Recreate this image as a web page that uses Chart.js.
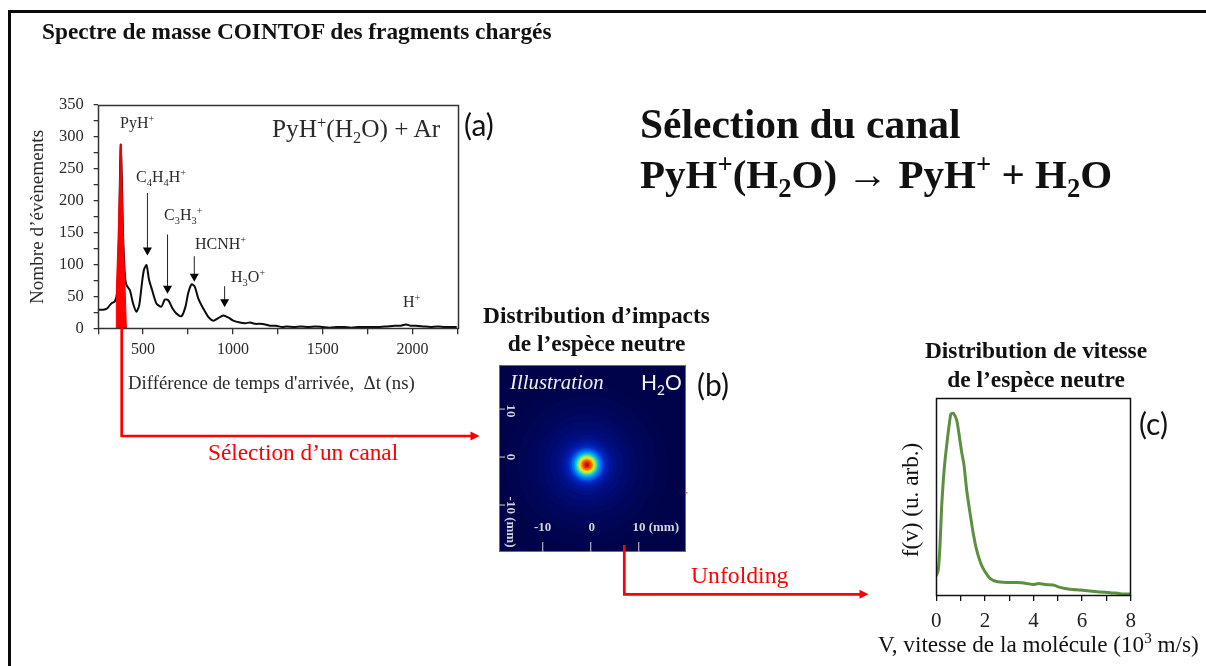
<!DOCTYPE html>
<html lang="fr"><head><meta charset="utf-8">
<script src="https://cdn.jsdelivr.net/npm/chart.js@4"></script>
<style>
html,body{margin:0;padding:0;background:#fff;width:1206px;height:666px;overflow:hidden}
#frameT{position:absolute;left:8px;top:10px;width:1198px;height:3px;background:#0a0a0a}
#frameL{position:absolute;left:8px;top:10px;width:3px;height:656px;background:#0a0a0a}
canvas{position:absolute;display:block}
.t{position:absolute;white-space:nowrap;font-family:"Liberation Serif",serif;color:#111;line-height:1;z-index:5}
.t sub,.t sup{font-size:65%;line-height:0}
.b{font-weight:bold}
.s{font-family:Lato,"Noto Sans",sans-serif;color:#111}
.r{color:#f00}
.g{color:#2a2a2a}
.rot{transform:translate(-50%,-50%) rotate(-90deg);transform-origin:center}
svg{position:absolute;left:0;top:0;z-index:4}
</style></head><body>
<div id="frameT"></div><div id="frameL"></div>
<canvas id="ca" width="450" height="270" style="left:20px;top:90px"></canvas>
<canvas id="cb" width="187" height="187" style="left:499px;top:365px;background:#00024a"></canvas>
<canvas id="cc" width="306" height="250" style="left:900px;top:385px"></canvas>
<svg width="1206" height="666">
 <path d="M121.7 328V436H471" fill="none" stroke="#f00" stroke-width="2.7"/>
 <path d="M479.5 436L470.5 431.5V440.5Z" fill="#f00"/>
 <path d="M624.3 545V594.3H860" fill="none" stroke="#f00" stroke-width="2.7"/>
 <path d="M868.5 594.3L859.5 589.8V598.8Z" fill="#f00"/>
 <rect x="686" y="492" width="1.5" height="1.5" fill="#f66"/>
</svg>

<div class="t b" style="left:42px;top:20px;font-size:23.3px">Spectre de masse COINTOF des fragments chargés</div>
<div class="t b" style="left:640px;top:104px;font-size:41.5px">Sélection du canal</div>
<div class="t b" style="left:640px;top:154px;font-size:41px">PyH<sup>+</sup>(H<sub>2</sub>O) → PyH<sup>+</sup> + H<sub>2</sub>O</div>

<div class="t g rot" style="left:37px;top:217px;font-size:19.2px">Nombre d’évènements</div>
<div class="t g" style="left:128px;top:374px;font-size:18.8px">Différence de temps d'arrivée,&nbsp; Δt (ns)</div>
<div class="t g" style="left:272px;top:116px;font-size:25.3px">PyH<sup>+</sup>(H<sub>2</sub>O) + Ar</div>
<div class="t g" style="left:120px;top:115px;font-size:16px">PyH<sup>+</sup></div>
<div class="t g" style="left:136px;top:169px;font-size:16px">C<sub>4</sub>H<sub>4</sub>H<sup>+</sup></div>
<div class="t g" style="left:164px;top:207px;font-size:16px">C<sub>3</sub>H<sub>3</sub><sup>+</sup></div>
<div class="t g" style="left:195px;top:236px;font-size:16px">HCNH<sup>+</sup></div>
<div class="t g" style="left:231px;top:269px;font-size:16px">H<sub>3</sub>O<sup>+</sup></div>
<div class="t g" style="left:403px;top:294px;font-size:16px">H<sup>+</sup></div>
<div class="t s" style="left:464px;top:109px;font-size:30px">(a)</div>
<div class="t s" style="left:697px;top:369px;font-size:30px">(b)</div>
<div class="t s" style="left:1139px;top:408px;font-size:30px">(c)</div>

<div class="t b" style="left:596.5px;top:304px;font-size:23.4px;transform:translateX(-50%)">Distribution d’impacts</div>
<div class="t b" style="left:596.5px;top:332px;font-size:23.4px;transform:translateX(-50%)">de l’espèce neutre</div>
<div class="t b" style="left:1036px;top:339px;font-size:23.4px;transform:translateX(-50%)">Distribution de vitesse</div>
<div class="t b" style="left:1036px;top:368px;font-size:23.4px;transform:translateX(-50%)">de l’espèce neutre</div>

<div class="t" style="left:510px;top:372px;font-size:20.8px;font-style:italic;color:#f0f0f0">Illustration</div>
<div class="t s" style="left:641px;top:371px;font-size:21px;color:#f4f4f4">H<sub>2</sub>O</div>

<div class="t r" style="left:208px;top:441px;font-size:23.3px">Sélection d’un canal</div>
<div class="t r" style="left:691px;top:564px;font-size:23.7px">Unfolding</div>

<div class="t rot" style="left:911px;top:500px;font-size:23.2px">f(v) (u. arb.)</div>
<div class="t" style="left:878px;top:633px;font-size:23.2px">V, vitesse de la molécule (10<sup>3</sup> m/s)</div>

<script>
// (a) COINTOF mass spectrum
const spectrumNs = [249,277,299,323,342,355,364,370,375,381,388,398,407,426,444,463,478,491,504,519,533,550,574,602,621,640,664,686,714,736,751,770,788,807,835,863,891,919,946,974,1002,1039,1070,1095,1125,1151,1180,1207,1240,1275,1300,1340,1380,1420,1460,1500,1540,1580,1620,1660,1700,1740,1780,1820,1860,1900,1930,1965,1990,2020,2060,2100,2140,2180,2220,2247];
const spectrumCounts = [29,29,31,39,42,55,112,220,288,240,150,85,68,60,39,26,36,65,91,99,76,60,39,34,45,44,31,23,19,34,55,69,65,47,31,18,12,16,20,17,12,9,8,9,7,7,6,4,4,2,3,2,3,2,3,2,1,2,2,1,2,2,2,2,3,4,4,6,4,4,3,2,3,2,2,2];
const selectionNs = [349,349,353,360,368,374,379,383,390,400,407];
const selectionCounts = [0,30,60,139,217,288,286,217,139,60,0];
const arrowNs = [524,636,785,954];
const arrowFromCounts = [212,147,113,66];
const arrowToCounts = [114,54,73,33];
const spectrumXTickMarks = [250,500,750,1000,1250,1500,1750,2000,2250];
const spectrumXTicks = [500,1000,1500,2000];
const spectrumYTicks = [0,50,100,150,200,250,300,350];

// (b) impact distribution: concentric intensity levels around the spot
const spotCentreMm = [-0.8,-1.6];
const spotRadiusMm = [17,14.5,12.5,10.5,9,7.5,6.4,5.5,4.9,4.4,3.9,3.5,3.15,2.8,2.5,2.25,2.05,1.8,1.55,1.3,1.1,0.8,0.45];
const spotColour = ['#00034e','#000554','#00065c','#000864','#000a6e','#000c78','#000f84','#001392','#0018a2','#0020b4','#002ec8','#0048dc','#0068ec','#0090f0','#00b8e8','#20d4c0','#70e080','#c0e840','#f8e020','#ffa800','#ff6a00','#f03000','#c81000'];
const pixelsPerMm = 4.8;
const impactXTicks = [-10,0,10];
const impactXLabels = ['-10','0','10 (mm)'];
const impactYTicks = [10,0,-10];
const impactYLabels = ['10','0','-10 (mm)'];

// (c) velocity distribution
const speed = [0,.08,.15,.22,.29,.36,.43,.52,.60,.70,.84,.93,1.04,1.14,1.25,1.39,1.52,1.66,1.82,2,2.21,2.48,2.89,3.31,3.72,3.99,4.22,4.47,4.81,5.09,5.5,5.91,6.32,6.74,7.15,7.56,8];
const fv = [9.7,12.7,24.6,44.9,58.5,68.6,76.3,85.6,92,92.4,88.9,82.2,72.9,66.1,53.4,41.5,31.4,22.9,16.4,11.9,8.5,6.9,6.4,6.3,5.9,5.3,5.9,5.3,5.1,3.9,2.9,2.5,2,1.5,1.2,.7,.5];
const speedTicks = [0,2,4,6,8];

const zip = (a,b)=>a.map((x,i)=>({x,y:b[i]}));
Chart.defaults.animation = false;
Chart.defaults.responsive = false;
Chart.defaults.devicePixelRatio = 1;
Chart.defaults.plugins.legend.display = false;
Chart.defaults.plugins.tooltip.enabled = false;
Chart.defaults.font.family = '"Liberation Serif",serif';

const fitX = h => s => {s.height=h;s.paddingLeft=0;s.paddingRight=0;};
const fitY = w => s => {s.width=w;s.paddingTop=0;s.paddingBottom=0;};
const frame = (color,w)=>({id:'frame',afterDatasetsDraw(c){
  const {left,right,top,bottom}=c.chartArea,g=c.ctx;
  g.save();g.strokeStyle=color;g.lineWidth=w;
  g.strokeRect(Math.round(left)+.5,Math.round(top)+.5,Math.round(right-left)-(w<1.5?1:0),Math.round(bottom-top)-(w<1.5?1:0));
  g.restore();}});

new Chart(document.getElementById('ca'),{
 type:'scatter',
 data:{datasets:[
  {data:zip(selectionNs,selectionCounts),showLine:true,fill:'origin',backgroundColor:'#ff0000',borderColor:'#ff0000',borderWidth:1,pointRadius:0,tension:0,order:0},
  {data:zip(spectrumNs,spectrumCounts),showLine:true,borderColor:'#0c0c0c',borderWidth:2,pointRadius:0,tension:0.25,order:1}
 ]},
 options:{
  layout:{autoPadding:false,padding:{top:15,right:12.7,left:0,bottom:0}},
  scales:{
   x:{type:'linear',min:247,max:2250,afterFit:fitX(31.7),
      afterBuildTicks:s=>{s.ticks=spectrumXTickMarks.map(value=>({value}));},
      grid:{display:true,drawOnChartArea:false,tickLength:6,tickColor:'#333',lineWidth:1.3},border:{display:false},
      ticks:{autoSkip:false,maxRotation:0,padding:6,color:'#2a2a2a',font:{size:16},
             callback:v=>spectrumXTicks.includes(v)?String(v):''}},
   y:{min:0,max:350,afterFit:fitY(77.7),
      grid:{display:true,drawOnChartArea:false,tickLength:4,tickColor:'#333',lineWidth:1.3},border:{display:false},
      ticks:{stepSize:25,autoSkip:false,padding:10,color:'#2a2a2a',font:{size:16.5},
             callback:v=>spectrumYTicks.includes(v)?String(v):''}}
  }
 },
 plugins:[frame('#333',1.5),{id:'arrows',afterDatasetsDraw(c){
   const g=c.ctx,x=c.scales.x,y=c.scales.y;
   g.save();g.strokeStyle='#222';g.fillStyle='#000';g.lineWidth=1;
   arrowNs.forEach((n,i)=>{
     const px=x.getPixelForValue(n),a=y.getPixelForValue(arrowFromCounts[i]),b=y.getPixelForValue(arrowToCounts[i]);
     g.beginPath();g.moveTo(px,a);g.lineTo(px,b-7);g.stroke();
     g.beginPath();g.moveTo(px-4.5,b-8);g.lineTo(px+4.5,b-8);g.lineTo(px,b);g.closePath();g.fill();
   });
   g.restore();}}]
});

new Chart(document.getElementById('cb'),{
 type:'bubble',
 data:{datasets:[{
   data:spotRadiusMm.map(r=>({x:spotCentreMm[0],y:spotCentreMm[1],r:r*pixelsPerMm})),
   backgroundColor:spotColour,borderWidth:0
 }]},
 options:{
  layout:{autoPadding:false,padding:0},
  scales:{
   x:{type:'linear',min:-19.1,max:19.85,display:false},
   y:{type:'linear',min:-19.8,max:19.2,display:false}
  }
 },
 plugins:[frame('#6a6a7c',1),{id:'insideAxes',afterDatasetsDraw(c){
   const g=c.ctx,x=c.scales.x,y=c.scales.y,ink='#d4d4dc';
   g.save();g.strokeStyle='#b0b0bc';g.lineWidth=1.2;g.fillStyle=ink;
   g.font='bold 13px "Liberation Serif",serif';g.textBaseline='middle';g.textAlign='center';
   impactXTicks.forEach((v,i)=>{
     const p=x.getPixelForValue(v);
     g.beginPath();g.moveTo(p,c.height);g.lineTo(p,c.height-10);g.stroke();
     g.fillText(impactXLabels[i],i===2?p+17:(i===1?p+1:p),163);
   });
   impactYTicks.forEach((v,i)=>{
     const p=y.getPixelForValue(v);
     g.beginPath();g.moveTo(0,p);g.lineTo(6,p);g.stroke();
     g.save();g.translate(11,i===2?p+17:(i===0?p+2:p));g.rotate(Math.PI/2);g.fillText(impactYLabels[i],0,0);g.restore();
   });
   g.restore();}}]
});

new Chart(document.getElementById('cc'),{
 type:'scatter',
 data:{datasets:[{data:zip(speed,fv),showLine:true,borderColor:'#5c9040',borderWidth:3,pointRadius:0,tension:0.2}]},
 options:{
  layout:{autoPadding:false,padding:{top:13.3,right:75.3,left:0,bottom:0}},
  scales:{
   x:{type:'linear',min:0,max:8,afterFit:fitX(40),
      grid:{display:true,drawOnChartArea:false,tickLength:6,tickColor:'#111',lineWidth:1.3},border:{display:false},
      ticks:{stepSize:1,autoSkip:false,maxRotation:0,padding:8,color:'#222',font:{size:21},
             callback:v=>speedTicks.includes(v)?String(v):''}},
   y:{min:0,max:100,afterFit:fitY(36.3),grid:{display:false},border:{display:false},ticks:{display:false}}
  }
 },
 plugins:[frame('#111',1.5)]
});
</script>
</body></html>
